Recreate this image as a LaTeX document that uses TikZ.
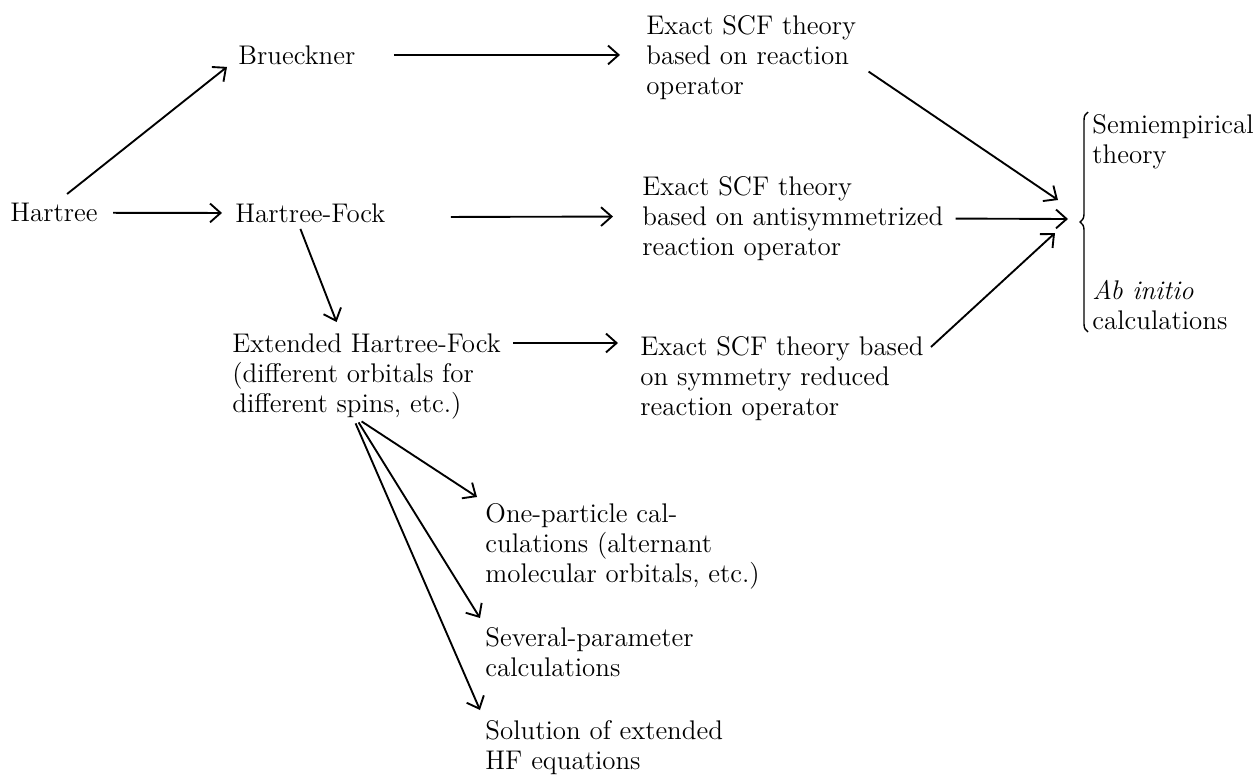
\documentclass[tikz,border=0pt]{standalone}
\usepackage{tikz}
\usetikzlibrary{positioning, calc, arrows.meta, decorations.pathreplacing}

\begin{document}
\begin{tikzpicture}[x=0.015cm, y=-0.015cm,
    txt/.style={anchor=north west, inner sep=0pt, align=left,
      font=\fontsize{11.5}{12.8}\selectfont},
    flow/.style={-{Straight Barb[length=4.5pt, width=8pt]}, line width=0.8pt}]

      \useasboundingbox (0,0) rectangle (1260,776);

      % Place the method names.
      \node[txt] (hartree) at (10,203) {Hartree};
      \node[txt] (brueckner) at (238,45) {Brueckner};
      \node[txt] (hf) at (235,203) {Hartree-Fock};
      \node[txt] (ext) at (232,333) {Extended Hartree-Fock\\(different orbitals for\\different spins, etc.)};

      % Place the exact SCF theories.
      \node[txt] (exact1) at (646,15) {Exact SCF theory\\based on reaction\\operator};
      \node[txt] (exact2) at (642,176) {Exact SCF theory\\based on antisymmetrized\\reaction operator};
      \node[txt] (exact3) at (640,336) {Exact SCF theory based\\on symmetry reduced\\reaction operator};

      % Place the two kinds of calculations behind the brace.
      \node[txt] (semi) at (1092,114) {Semiempirical\\theory};
      \node[txt] (abinitio) at (1092,280) {\textit{Ab initio}\\calculations};

      % Place the special cases of extended Hartree-Fock.
      \node[txt] (one) at (485,503) {One-particle cal-\\culations (alternant\\molecular orbitals, etc.)};
      \node[txt] (several) at (485,627) {Several-parameter\\calculations};
      \node[txt] (solution) at (485,720) {Solution of extended\\HF equations};

      % Draw the brace.
      \draw[decorate, decoration={brace, amplitude=3.4pt}, line width=0.6pt]
      (1088,332) -- (1088,112);
      \coordinate (in1) at (1058,200);
      \coordinate (in2) at (1068,219);
      \coordinate (in3) at (1055,233);

      % Draw the arrows of the top part.
      \draw[flow] ($(hartree.north)+(13,-9)$) -- ($(brueckner.south west)+(-11,2)$);
      \draw[flow] ($(hartree.east)+(15,0)$) -- ($(hf.west)+(-13,0)$);
      \draw[flow] ($(brueckner.east)+(38,0)$) -- ($(exact1.west |- brueckner.east)+(-26,0)$);
      \draw[flow] ($(hf.east)+(65,4)$) -- ($(exact2.west)+(-29,-2)$);
      \draw[flow] ($(hf.south)+(-10,6)$) -- ($(ext.north)+(-30,-11)$);
      \draw[flow] ($(ext.north east)+(12,10)$) -- ($(exact3.north west)+(-22,7)$);

      % Draw the arrows into the brace.
      \draw[flow] ($(exact1.east)+(12,14)$) -- (in1);
      \draw[flow] ($(exact2.east)+(12,0)$) -- (in2);
      \draw[flow] ($(exact3.north east)+(7,11)$) -- (in3);

      % Draw the arrows to the special cases.
      \draw[flow] ($(ext.south)+(-5,2)$) -- ($(one.north west)+(-8,-6)$);
      \draw[flow] ($(ext.south)+(-8,3)$) -- ($(several.north west)+(-5,-9)$);
      \draw[flow] ($(ext.south)+(-11,4)$) -- ($(solution.north west)+(-5,-10)$);
    \end{tikzpicture}
\end{document}
